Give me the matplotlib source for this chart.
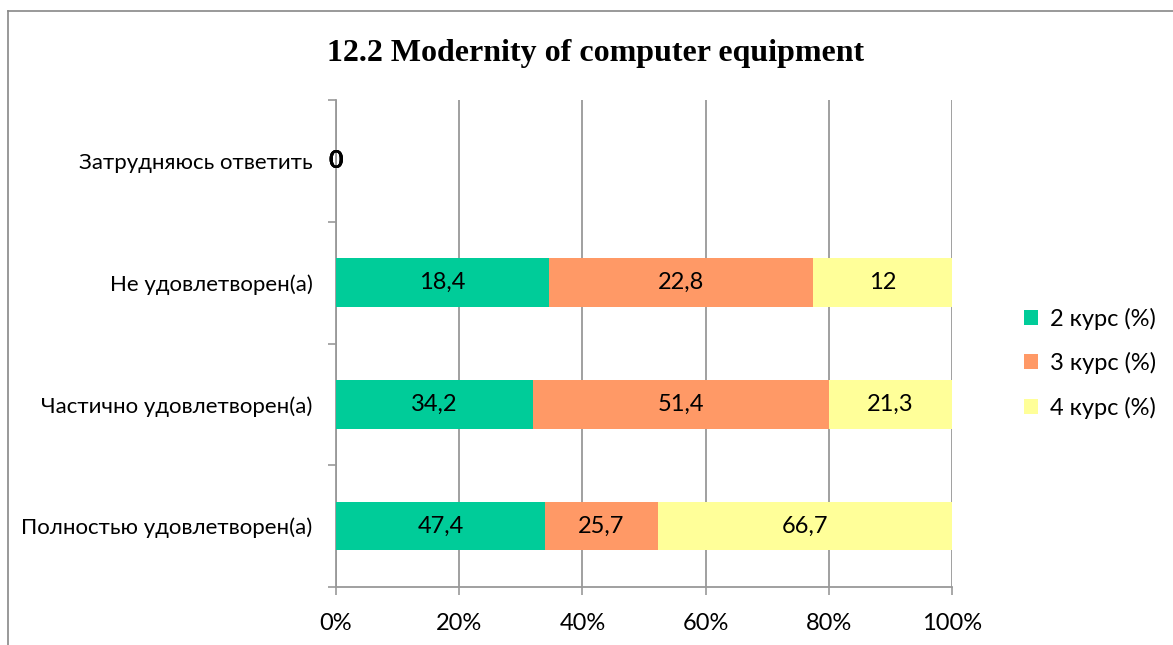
import matplotlib
matplotlib.use("Agg")
import matplotlib.pyplot as plt
from matplotlib.lines import Line2D
from matplotlib.ticker import FixedLocator
import numpy as np

categories = ["Полностью удовлетворен(а)", "Частично удовлетворен(а)",
              "Не удовлетворен(а)", "Затрудняюсь ответить"]
series_names = ["2 курс (%)", "3 курс (%)", "4 курс (%)"]
course2 = [47.4, 34.2, 18.4, 0]
course3 = [25.7, 51.4, 22.8, 0]
course4 = [66.7, 21.3, 12, 0]
value_labels = [
    ["47,4", "34,2", "18,4", "0"],
    ["25,7", "51,4", "22,8", "0"],
    ["66,7", "21,3", "12", "0"],
]
xticks = [0, 20, 40, 60, 80, 100]
colors = ["#00CC99", "#FF9966", "#FFFF99"]

plt.rcParams["font.family"] = ["Lato", "DejaVu Sans"]

fig = plt.figure(figsize=(11.73, 6.45), dpi=100)
ax = fig.add_axes([336 / 1173, 58 / 645, 616 / 1173, 487 / 645])

data = np.array([course2, course3, course4], dtype=float)
totals = data.sum(axis=0)
shares = np.divide(data * 100, totals, out=np.zeros_like(data), where=totals > 0)

y = np.arange(len(categories))
left = np.zeros(len(categories))
for i, name in enumerate(series_names):
    ax.barh(y, shares[i], left=left, height=0.4, color=colors[i],
            label=name, zorder=3)
    for j in range(len(categories)):
        empty = totals[j] == 0
        ax.text(left[j] + shares[i][j] / 2, y[j], value_labels[i][j],
                ha="center", va="center", fontsize=18 if empty else 17,
                fontweight="bold" if empty else "normal", zorder=4)
    left += shares[i]

ax.set_xlim(0, 100)
ax.set_ylim(-0.5, len(categories) - 0.5)
ax.set_xticks(xticks)
ax.set_xticklabels([f"{t}%" for t in xticks], fontsize=17)
ax.set_yticks(y)
ax.set_yticklabels(categories, fontsize=16)
ax.yaxis.set_minor_locator(FixedLocator(np.arange(-0.5, len(categories), 1)))
ax.tick_params(axis="y", which="major", length=0, pad=17)
ax.tick_params(axis="y", which="minor", length=6, color="#999999", width=1.2)
ax.tick_params(axis="x", length=6, color="#999999", width=1.2, pad=13)
ax.grid(axis="x", color="#999999", linewidth=1.3, zorder=0)
for side in ["top", "right"]:
    ax.spines[side].set_visible(False)
for side in ["left", "bottom"]:
    ax.spines[side].set_color("#999999")
    ax.spines[side].set_linewidth(1.3)

fig.text(596 / 1173, 1 - 53 / 645, "12.2 Modernity of computer equipment",
         ha="center", va="center", fontsize=23, fontweight="bold",
         family="Liberation Serif")

ax.legend(loc="center left", bbox_to_anchor=(1.082, 0.46), frameon=False,
          fontsize=17, handlelength=0.6, handleheight=0.6, labelspacing=0.95,
          handletextpad=0.5)

# outer chart frame
fig.add_artist(Line2D([8 / 1173, 1], [1 - 11 / 645] * 2,
                      transform=fig.transFigure, color="#888888", lw=1.2))
fig.add_artist(Line2D([8 / 1173] * 2, [0, 1 - 11 / 645],
                      transform=fig.transFigure, color="#888888", lw=1.2))

fig.savefig("out.png", dpi=100)
